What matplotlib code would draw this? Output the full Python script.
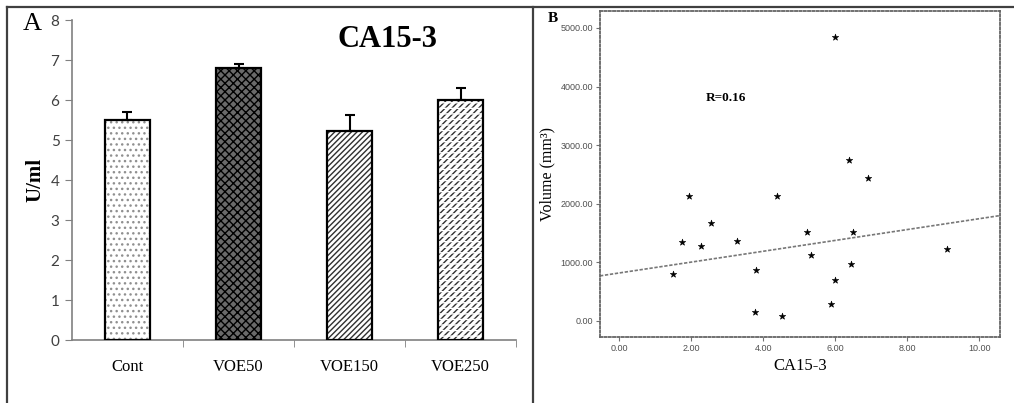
import numpy as np
import matplotlib.pyplot as plt
from matplotlib.lines import Line2D

# panel A: CA15-3 level per group
groups = ['Cont', 'VOE50', 'VOE150', 'VOE250']
ca153 = [5.5, 6.8, 5.22, 6.0]
ca153_err = [0.2, 0.1, 0.4, 0.3]

# panel B: CA15-3 vs tumour volume
ca_x = [6.01, 6.38, 6.92, 1.93, 4.38, 2.55, 5.22, 6.51, 1.76, 3.27,
        2.27, 9.11, 5.34, 3.81, 6.44, 1.51, 6.01, 5.88, 3.77, 4.52]
vol_y = [4850, 2750, 2437, 2141, 2141, 1668, 1515, 1526, 1355, 1372,
         1275, 1224, 1127, 865, 968, 803, 700, 296, 148, 91]
fit_intercept = 819.0
fit_slope = 92.6

serif = 'Liberation Serif'
sans = 'Lato'

fig = plt.figure(figsize=(10.14, 4.03), dpi=100)

# ---- panel A ----
ax = fig.add_axes([0.0710, 0.1563, 0.4379, 0.794])
xpos = np.arange(len(groups)) + 0.5
w = 0.405
hatches = ['...', 'xxxx', '//////', '/////']
faces = ['white', '#6a6a6a', 'white', 'white']
hcolors = ['#909090', 'black', '#303030', '#303030']
for i in range(len(groups)):
    ax.bar(xpos[i], ca153[i], w, color=faces[i], edgecolor=hcolors[i],
           hatch=hatches[i], linewidth=0, zorder=2)
# break the last hatch into short dashes
ax.bar(xpos[3], ca153[3], w, color='none', edgecolor='white', hatch='---',
       linewidth=0, zorder=3)
ax.bar(xpos, ca153, w, color='none', edgecolor='black', linewidth=1.6, zorder=4)
ax.errorbar(xpos, ca153, yerr=[[0] * 4, ca153_err], fmt='none', ecolor='black',
            elinewidth=1.5, capsize=3.5, capthick=1.5, zorder=5)

ax.set_xlim(0, 4)
ax.set_ylim(0, 8)
ax.set_yticks(range(0, 9))
ax.set_xticks(xpos)
ax.set_xticklabels(groups, fontfamily=serif, fontsize=12)
ax.set_xticks([1, 2, 3, 4], minor=True)
ax.tick_params(axis='x', which='major', length=0, pad=14)
ax.tick_params(axis='x', which='minor', length=5, color='#808080', direction='out')
ax.tick_params(axis='y', length=5, color='#808080', labelcolor='#404040',
               labelsize=11, pad=4)
for lab in ax.get_yticklabels():
    lab.set_fontfamily(sans)
for s in ['top', 'right']:
    ax.spines[s].set_visible(False)
for s in ['left', 'bottom']:
    ax.spines[s].set_color('#808080')
    ax.spines[s].set_linewidth(1.2)
ax.set_ylabel('U/ml', fontfamily=serif, fontweight='bold', fontsize=15, labelpad=4)
ax.text(0.71, 0.94, 'CA15-3', transform=ax.transAxes, fontfamily=serif,
        fontweight='bold', fontsize=22, ha='center', va='center')
fig.text(0.032, 0.94, 'A', fontfamily=serif, fontsize=19, ha='center', va='center')

# ---- panel B ----
bx = fig.add_axes([0.5917, 0.1638, 0.3945, 0.809])
bx.scatter(ca_x, vol_y, marker='*', s=24, color='black', linewidths=0.4,
           edgecolors='black', zorder=3)
xl = np.array([-0.53, 10.58])
bx.plot(xl, fit_intercept + fit_slope * xl, color='#777777', lw=1.2,
        linestyle=(0, (2, 1)), zorder=2)
bx.set_xlim(-0.53, 10.58)
bx.set_ylim(-273, 5290)
bx.set_xticks(np.arange(0, 11, 2))
bx.set_yticks(np.arange(0, 5001, 1000))
bx.set_xticklabels([f'{v:.2f}' for v in np.arange(0, 11, 2)])
bx.set_yticklabels([f'{v:.2f}' for v in np.arange(0, 5001, 1000)])
bx.tick_params(length=3, color='#707070', labelcolor='#505050', labelsize=6.5, pad=2)
for lab in bx.get_xticklabels() + bx.get_yticklabels():
    lab.set_fontfamily('Liberation Sans')
for s in bx.spines.values():
    s.set_linestyle((0, (1.2, 1.2)))
    s.set_color('#666666')
    s.set_linewidth(1.3)
bx.set_xlabel('CA15-3', fontfamily=serif, fontsize=12, labelpad=4)
bx.set_ylabel('Volume (mm³)', fontfamily=serif, fontsize=11.5, labelpad=4)
bx.text(2.4, 3800, 'R=0.16', fontfamily=serif, fontweight='bold', fontsize=9.5,
        ha='left', va='center')
fig.text(0.545, 0.955, 'B', fontfamily=serif, fontweight='bold', fontsize=11,
         ha='center', va='center')

# frame lines around the two panels
H, W = 403.0, 1014.0
frame = dict(color='#404040', lw=1.6, transform=fig.transFigure)
fig.add_artist(Line2D([7 / W, 1], [1 - 7 / H, 1 - 7 / H], **frame))
fig.add_artist(Line2D([7 / W, 7 / W], [0, 1 - 7 / H], **frame))
fig.add_artist(Line2D([533 / W, 533 / W], [0, 1 - 7 / H], **frame))

fig.savefig('out.png', dpi=100)
